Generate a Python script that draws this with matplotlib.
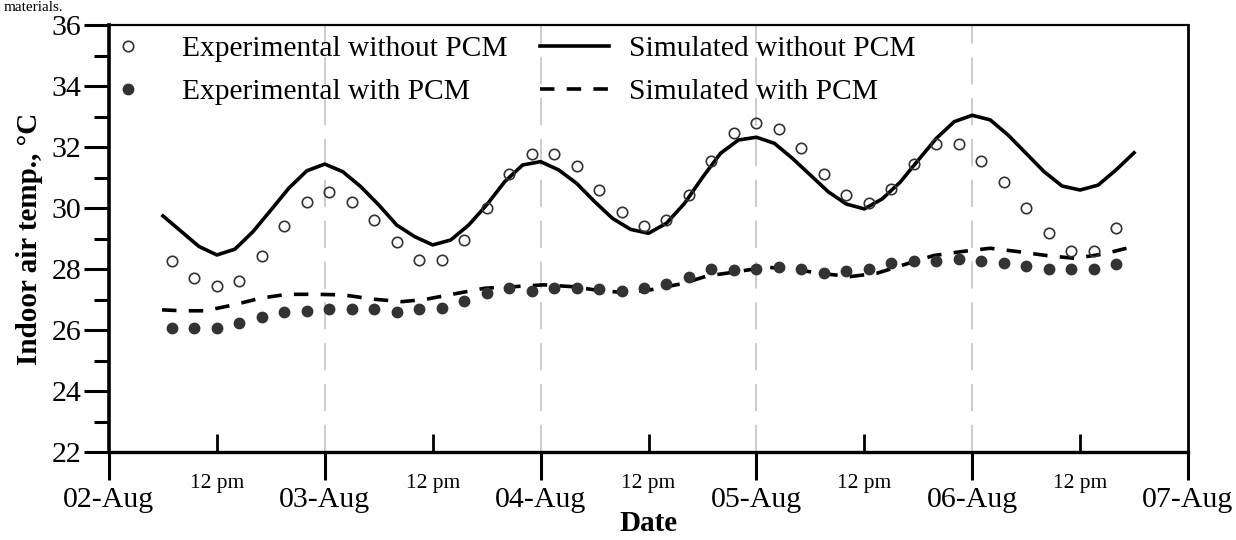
import numpy as np
import matplotlib
matplotlib.use('Agg')
import matplotlib.pyplot as plt
from matplotlib.lines import Line2D

plt.rcParams['font.family'] = ['Liberation Serif', 'DejaVu Serif']

# time in hours from 02-Aug 00:00
exp_hours = np.arange(7, 112.1, 2.5)

exp_no_pcm = [28.27, 27.69, 27.44, 27.62, 28.42, 29.41, 30.20, 30.52, 30.21, 29.60,
              28.90, 28.30, 28.30, 28.96, 30.00, 31.13, 31.77, 31.77, 31.37, 30.59,
              29.86, 29.42, 29.61, 30.44, 31.53, 32.47, 32.80, 32.59, 31.98, 31.10,
              30.43, 30.17, 30.63, 31.44, 32.09, 32.09, 31.54, 30.84, 30.01, 29.19,
              28.60, 28.60, 29.33]

exp_pcm = [26.06, 26.06, 26.06, 26.22, 26.44, 26.60, 26.63, 26.68, 26.68, 26.68,
           26.60, 26.68, 26.73, 26.95, 27.22, 27.39, 27.28, 27.39, 27.39, 27.34,
           27.28, 27.39, 27.52, 27.75, 28.00, 27.96, 27.99, 28.08, 27.99, 27.88,
           27.93, 27.99, 28.19, 28.27, 28.27, 28.32, 28.27, 28.19, 28.10, 27.99,
           27.99, 27.99, 28.16]

sim_hours = np.arange(6, 114.1, 2)
sim_no_pcm = [29.74, 29.24, 28.74, 28.46, 28.65, 29.22, 29.93, 30.65, 31.22, 31.44,
              31.19, 30.70, 30.10, 29.44, 29.06, 28.79, 28.95, 29.44, 30.10, 30.86,
              31.41, 31.52, 31.25, 30.81, 30.21, 29.66, 29.30, 29.17, 29.50, 30.15,
              31.00, 31.79, 32.23, 32.32, 32.12, 31.63, 31.08, 30.53, 30.13, 29.97,
              30.30, 30.85, 31.57, 32.28, 32.83, 33.04, 32.89, 32.39, 31.79, 31.19,
              30.72, 30.59, 30.75, 31.25, 31.81]

sim_pcm_hours = [5.9, 8.3, 10.7, 13.8, 16.8, 19.8, 23.1, 26.1, 29.4, 32.6,
                 35.3, 38.7, 41.8, 45.0, 48.3, 51.6, 54.6, 57.6, 60.5, 63.9,
                 66.5, 69.8, 73.1, 76.1, 79.1, 82.4, 85.4, 88.3, 91.7, 94.8,
                 98.0, 101.1, 104.3, 107.4, 110.6, 114.1]
sim_pcm = [26.66, 26.63, 26.63, 26.82, 27.04, 27.17, 27.17, 27.15, 27.01, 26.93,
           27.01, 27.20, 27.37, 27.42, 27.48, 27.42, 27.29, 27.22, 27.33, 27.53,
           27.77, 27.91, 28.06, 27.99, 27.86, 27.75, 27.86, 28.13, 28.44, 28.57,
           28.68, 28.57, 28.44, 28.35, 28.49, 28.75]

day_hours = [0, 24, 48, 72, 96, 120]
day_labels = ['02-Aug', '03-Aug', '04-Aug', '05-Aug', '06-Aug', '07-Aug']
noon_hours = [12, 36, 60, 84, 108]
noon_labels = ['12 pm'] * 5

fig = plt.figure(figsize=(12.36, 5.4), dpi=100)
ax = fig.add_axes([109/1236, 1 - 452/540, (1188 - 109)/1236, (452 - 25)/540])

for h in day_hours[1:-1]:
    ax.axvline(h, color='#cccccc', lw=1.4, ls=(0, (14, 7)), zorder=0)

mk = '#333333'
ax.plot(sim_hours, sim_no_pcm, '-', color='black', lw=2.6, zorder=2)
ax.plot(sim_pcm_hours, sim_pcm, color='black', lw=2.6, ls=(0, (4, 3.4)), zorder=2)
ax.plot(exp_hours, exp_no_pcm, 'o', ms=7.5, mfc='none', mec=mk, mew=1.2, zorder=3)
ax.plot(exp_hours, exp_pcm, 'o', ms=7.5, mfc=mk, mec=mk, zorder=3)

ax.set_xlim(0, 120)
ax.set_ylim(22, 36)

ax.set_xticks(day_hours)
ax.set_xticklabels(day_labels)
ax.set_xticks(noon_hours, minor=True)
ax.set_xticklabels(noon_labels, minor=True)
ax.set_yticks(np.arange(22, 37, 2))
ax.set_yticks(np.arange(23, 36, 2), minor=True)

ax.tick_params(axis='x', which='major', direction='out', length=20, width=2.2,
               pad=5, labelsize=21.5)
ax.tick_params(axis='x', which='minor', direction='in', length=13, width=2,
               pad=16, labelsize=15.5)
ax.tick_params(axis='y', which='major', direction='out', length=18, width=2.2,
               pad=2, labelsize=21.5)
ax.tick_params(axis='y', which='minor', direction='out', length=11, width=2.2)

ax.spines['left'].set_linewidth(2.6)
ax.spines['bottom'].set_linewidth(2.4)
ax.spines['top'].set_linewidth(1.6)
ax.spines['right'].set_linewidth(2.0)

ax.set_ylabel('Indoor air temp., °C', fontweight='bold', fontsize=21, labelpad=6)
ax.set_xlabel('Date', fontweight='bold', fontsize=21, labelpad=-2)

handles = [
    Line2D([], [], ls='', marker='o', ms=7.5, mfc='none', mec=mk, mew=1.2),
    Line2D([], [], ls='', marker='o', ms=7.5, mfc=mk, mec=mk),
    Line2D([], [], color='black', lw=2.6),
    Line2D([], [], color='black', lw=2.6, ls=(0, (4, 3.4))),
]
labels = ['Experimental without PCM', 'Experimental with PCM',
          'Simulated without PCM', 'Simulated with PCM']
ax.legend(handles, labels, ncol=2, loc='upper left',
          bbox_to_anchor=((93 - 109)/1079, 0.975), frameon=False,
          borderpad=0, borderaxespad=0, handlelength=2.35, handletextpad=0.68,
          columnspacing=1.07, labelspacing=0.54, fontsize=21.25)

fig.text(0.003, 0.998, 'materials.', fontsize=11, va='top')

fig.savefig('out.png', dpi=100)
